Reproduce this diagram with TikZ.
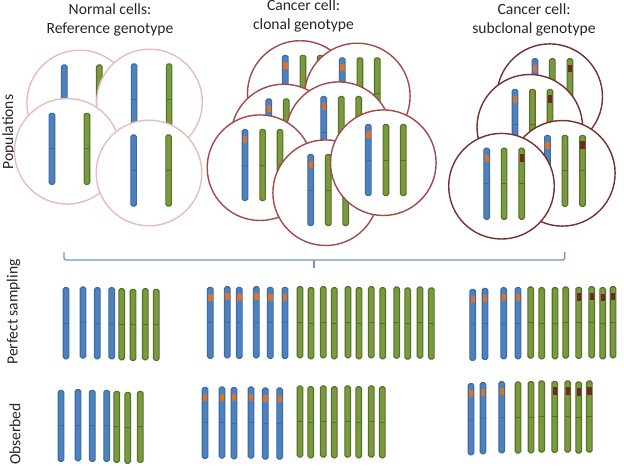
\documentclass[tikz,border=0pt]{standalone}
\usepackage{fontspec}
\setmainfont{Carlito}
\definecolor{chrblue}{HTML}{4F81BD}
\definecolor{chrblueedge}{HTML}{3A6CA8}
\definecolor{chrgreen}{HTML}{7A9A3E}
\definecolor{chrgreenedge}{HTML}{56702C}
\definecolor{mutorange}{HTML}{D9722E}
\definecolor{mutbrown}{HTML}{6E2A22}
\definecolor{normalring}{HTML}{E6BDBB}
\definecolor{clonalring}{HTML}{A34A48}
\definecolor{subring}{HTML}{74312F}
\definecolor{bracketblue}{HTML}{6F97C6}
\tikzset{
  label text/.style={font=\fontsize{15.6}{18.7}\selectfont, text=black!85, inner sep=0pt, align=center},
  side text/.style={label text, rotate=90},
  cellring/.style={fill=white, line width=1.4pt},
  bluechr/.style={fill=chrblue, draw=chrblueedge, line width=1.1pt, rounded corners=1.6pt},
  greenchr/.style={fill=chrgreen, draw=chrgreenedge, line width=1.1pt, rounded corners=1.6pt},
  bracket/.style={draw=bracketblue, line width=1.4pt, line join=round}
}
% one chromosome: x, top y, fill style, waist colour
\newcommand{\chrom}[4]{%
  \draw[#3] ({#1-2.8},#2) rectangle ({#1+2.8},{#2+71});
  \draw[#4, line width=0.8pt] ({#1-2.8},{#2+35.5}) -- ({#1+2.8},{#2+35.5});
}
\newcommand{\bluebar}[2]{\chrom{#1}{#2}{bluechr}{chrblueedge}}
\newcommand{\greenbar}[2]{\chrom{#1}{#2}{greenchr}{chrgreenedge}}
% chromosomes carrying a mutation band
\newcommand{\bluemut}[2]{\bluebar{#1}{#2}\fill[mutorange] ({#1-2.2},{#2+6.5}) rectangle ({#1+2.2},{#2+13.5});}
\newcommand{\greenmut}[2]{\greenbar{#1}{#2}\fill[mutbrown] ({#1-2.2},{#2+6}) rectangle ({#1+2.2},{#2+13.5});}
% the three kinds of cell, by centre
\newcommand{\normalcell}[2]{%
  \draw[cellring, draw=normalring] (#1,#2) circle (52.8);
  \bluebar{#1-15.4}{#2-38}\greenbar{#1+19.6}{#2-38}}
\newcommand{\clonalcell}[2]{%
  \draw[cellring, draw=clonalring] (#1,#2) circle (52.8);
  \bluemut{#1-15}{#2-38.2}\greenbar{#1+2.6}{#2-38.2}\greenbar{#1+20}{#2-38.2}}
\newcommand{\subcell}[2]{%
  \draw[cellring, draw=subring] (#1,#2) circle (52.8);
  \bluemut{#1-14.8}{#2-38}\greenbar{#1+2.6}{#2-38}\greenmut{#1+20.2}{#2-38}}
\begin{document}
\begin{tikzpicture}[x=1pt,y=-1pt]
\useasboundingbox (0,0) rectangle (624,469);
\fill[white] (0,0) rectangle (624,469);

% column headings
\node[label text] (normalhead) at (110,20) {Normal cells:\\Reference genotype};
\node[label text] (clonalhead) at (303.5,16) {Cancer cell:\\clonal genotype};
\node[label text] (subhead) at (534,20) {Cancer cell:\\subclonal genotype};

% row headings
\node[side text] (poprow) at (9,132) {Populations};
\node[side text] (perfectrow) at (13.5,312) {Perfect sampling};
\node[side text] (obsrow) at (15,434) {Obserbed};

% normal cell population
\normalcell{79.7}{103}
\normalcell{149.5}{102}
\normalcell{67.3}{151.3}
\normalcell{149}{173}

% clonal cancer population
\clonalcell{300.3}{93.5}
\clonalcell{357.3}{96}
\clonalcell{283.7}{137}
\clonalcell{338.7}{134.7}
\clonalcell{260}{167.7}
\clonalcell{325.7}{192.7}
\clonalcell{383.3}{162.7}

% subclonal cancer population
\subcell{549.7}{96.7}
\subcell{529.8}{127.3}
\subcell{562.3}{173.3}
\subcell{501.5}{186.2}

% bracket gathering the populations
\coordinate (brl) at (64,252);
\coordinate (brr) at (564.7,252);
\coordinate (brm) at (314,260);
\coordinate (brt) at (314,268);
\draw[bracket] (brl) -- (64,258.5) -- (65.5,260) -- (563.2,260) -- (564.7,258.5) -- (brr);
\draw[bracket] (brm) -- (brt);

% perfect sampling, normal
\foreach \x/\y in {66/287.7,83/287,97.3/287.7,111.7/287.7}{\bluebar{\x}{\y}}
\foreach \x/\y in {121.7/288.7,133/289.3,145.3/288.7,156.3/289.3}{\greenbar{\x}{\y}}
% perfect sampling, clonal
\foreach \x/\y in {210.3/287.3,227.3/286.7,239.3/287.3,256.3/286.7,270.3/287.3,285/287.3}{\bluemut{\x}{\y}}
\foreach \x/\y in {300/286.7,311/287.7,323.3/286.7,334.3/287.7,348/286.7,359/287.7,371.3/286.7,382.7/287.7,396.7/287,407.7/288,420/287,431.3/288}{\greenbar{\x}{\y}}
% perfect sampling, subclonal
\foreach \x/\y in {472.7/289.3,485/288.3,503.7/287.7,518/287.7}{\bluemut{\x}{\y}}
\foreach \x/\y in {530.7/287,541.7/287.7,555/287.7,565.7/287}{\greenbar{\x}{\y}}
\foreach \x/\y in {578.7/287.3,591.7/286.7,602.7/287.7,613/286.7}{\greenmut{\x}{\y}}

% observed, normal
\foreach \x/\y in {61/390.3,78/389.7,92.3/390.3,106.7/390.3}{\bluebar{\x}{\y}}
\foreach \x/\y in {116.7/391.3,127.7/392.3,140.3/391.3}{\greenbar{\x}{\y}}
% observed, clonal
\foreach \x/\y in {205/387.3,222/387,234/387.7,251/387,265.3/388,279.7/388}{\bluemut{\x}{\y}}
\foreach \x/\y in {300/386,310.7/386.7,323.3/386,334.3/386.7,347.7/386,358.7/386.7,371.3/386,382.3/386.7}{\greenbar{\x}{\y}}
% observed, subclonal
\foreach \x/\y in {471/383.7,483/382.7,501.7/381.7}{\bluemut{\x}{\y}}
\foreach \x/\y in {518/382,531/381.7,541.7/381}{\greenbar{\x}{\y}}
\foreach \x/\y in {554.7/381.3,567.7/381,578.7/382,589.3/381}{\greenmut{\x}{\y}}
\end{tikzpicture}
\end{document}
